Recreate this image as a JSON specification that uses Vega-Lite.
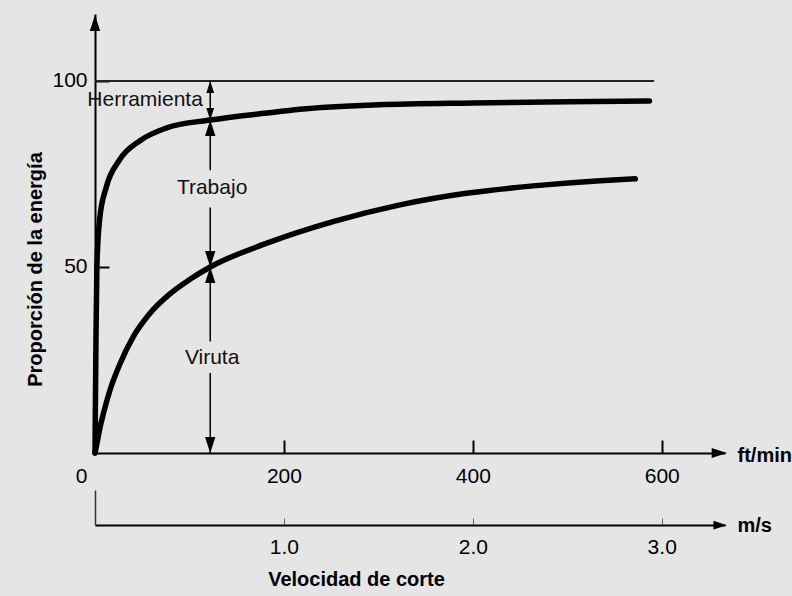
{
  "$schema": "https://vega.github.io/schema/vega-lite/v6.json",
  "width": 630,
  "height": 439,
  "autosize": "none",
  "padding": {"left": 95, "top": 14, "right": 67, "bottom": 143},
  "background": "#e5e5e5",
  "config": {
    "view": {"stroke": null},
    "font": "Liberation Sans",
    "axis": {"grid": false, "domainColor": "#000", "tickColor": "#000", "labelColor": "#000", "titleColor": "#000", "labelFont": "Liberation Sans", "titleFont": "Liberation Sans"}
  },
  "datasets": {
    "curves": [
      {"series": "Herramienta", "speed": 0, "energy": 0},
      {"series": "Herramienta", "speed": 1, "energy": 30},
      {"series": "Herramienta", "speed": 2, "energy": 50},
      {"series": "Herramienta", "speed": 5, "energy": 63},
      {"series": "Herramienta", "speed": 12, "energy": 71.5},
      {"series": "Herramienta", "speed": 26, "energy": 78.8},
      {"series": "Herramienta", "speed": 48, "energy": 84},
      {"series": "Herramienta", "speed": 76, "energy": 87.4},
      {"series": "Herramienta", "speed": 122, "energy": 89.5},
      {"series": "Herramienta", "speed": 182, "energy": 91.4},
      {"series": "Herramienta", "speed": 217, "energy": 92.4},
      {"series": "Herramienta", "speed": 300, "energy": 93.6},
      {"series": "Herramienta", "speed": 400, "energy": 94.1},
      {"series": "Herramienta", "speed": 500, "energy": 94.4},
      {"series": "Herramienta", "speed": 587, "energy": 94.6},
      {"series": "Viruta", "speed": 0, "energy": 0},
      {"series": "Viruta", "speed": 2, "energy": 2.5},
      {"series": "Viruta", "speed": 5, "energy": 6.5},
      {"series": "Viruta", "speed": 8.8, "energy": 10.5},
      {"series": "Viruta", "speed": 16, "energy": 17},
      {"series": "Viruta", "speed": 26.5, "energy": 24},
      {"series": "Viruta", "speed": 40.6, "energy": 31.3},
      {"series": "Viruta", "speed": 58, "energy": 37.5},
      {"series": "Viruta", "speed": 79, "energy": 42.7},
      {"series": "Viruta", "speed": 100.6, "energy": 46.7},
      {"series": "Viruta", "speed": 122, "energy": 50},
      {"series": "Viruta", "speed": 182, "energy": 56.4},
      {"series": "Viruta", "speed": 252, "energy": 62.2},
      {"series": "Viruta", "speed": 323, "energy": 66.7},
      {"series": "Viruta", "speed": 393, "energy": 69.8},
      {"series": "Viruta", "speed": 464, "energy": 71.8},
      {"series": "Viruta", "speed": 535, "energy": 73.2},
      {"series": "Viruta", "speed": 572, "energy": 73.7}
    ],
    "shafts": [
      {"x": 122, "y": 89.5, "y2": 100},
      {"x": 122, "y": 76, "y2": 89.5},
      {"x": 122, "y": 50, "y2": 66},
      {"x": 122, "y": 30, "y2": 50},
      {"x": 122, "y": 0, "y2": 21.5}
    ],
    "bigArrows": [
      {"x": 122, "y": 89.5, "dir": "up"},
      {"x": 122, "y": 50, "dir": "down"},
      {"x": 122, "y": 50, "dir": "up"},
      {"x": 122, "y": 0, "dir": "down"},
      {"x": 0, "y": 117.7, "dir": "up"},
      {"x": 669, "y": 0, "dir": "right"}
    ],
    "smallArrows": [
      {"x": 122, "y": 100, "dir": "up"},
      {"x": 122, "y": 89.5, "dir": "down"}
    ],
    "labels": [
      {"x": 53, "y": 94.9, "label": "Herramienta"},
      {"x": 124, "y": 71.2, "label": "Trabajo"},
      {"x": 124, "y": 25.5, "label": "Viruta"}
    ],
    "msArrow": [{"x": 669, "y": -19.4, "dir": "right"}],
    "topLine": [{"x": 0, "x2": 592, "y": 100}]
  },
  "layer": [
    {
      "data": {"name": "topLine"},
      "mark": {"type": "rule", "color": "#222", "strokeWidth": 2},
      "encoding": {
        "x": {"field": "x", "type": "quantitative", "scale": {"domain": [0, 667], "nice": false, "zero": false}, "axis": null},
        "x2": {"field": "x2"},
        "y": {"field": "y", "type": "quantitative", "scale": {"domain": [0, 118], "nice": false, "zero": false}, "axis": null}
      }
    },
    {
      "data": {"name": "curves"},
      "mark": {"type": "line", "color": "#000", "strokeWidth": 5.5, "interpolate": "monotone", "strokeCap": "round"},
      "encoding": {
        "detail": {"field": "series", "type": "nominal"},
        "x": {
          "field": "speed", "type": "quantitative",
          "scale": {"domain": [0, 667], "nice": false, "zero": false},
          "axis": {
            "orient": "bottom", "values": [0, 200, 400, 600],
            "domainWidth": 2, "tickSize": -13, "tickWidth": 2,
            "tickOpacity": {"condition": {"test": "datum.value == 0", "value": 0}, "value": 1},
            "labelAlign": {"condition": {"test": "datum.value == 0", "value": "right"}, "value": "center"},
            "labelOffset": {"condition": {"test": "datum.value == 0", "value": -8}, "value": 0},
            "labelFontSize": 21, "labelPadding": 25,
            "title": "ft/min", "titleX": 642, "titleY": 2, "titleAlign": "left", "titleBaseline": "middle", "titleAngle": 0,
            "titleFontSize": 20, "titleFontWeight": "bold"
          }
        },
        "y": {
          "field": "energy", "type": "quantitative",
          "scale": {"domain": [0, 118], "nice": false, "zero": false},
          "axis": {
            "orient": "left", "values": [50, 100],
            "domainWidth": 2, "tickSize": -14, "tickWidth": 2,
            "labelFontSize": 21, "labelPadding": 22,
            "title": "Proporción de la energía", "titleX": -60, "titleY": 255, "titleAngle": 270,
            "titleAlign": "center", "titleBaseline": "middle", "titleFontSize": 20, "titleFontWeight": "bold"
          }
        }
      }
    },
    {
      "data": {"name": "shafts"},
      "mark": {"type": "rule", "color": "#000", "strokeWidth": 1.5},
      "encoding": {
        "x": {"field": "x", "type": "quantitative", "scale": {"domain": [0, 667], "nice": false, "zero": false}, "axis": null},
        "y": {"field": "y", "type": "quantitative", "scale": {"domain": [0, 118], "nice": false, "zero": false}, "axis": null},
        "y2": {"field": "y2"}
      }
    },
    {
      "data": {"name": "bigArrows"},
      "mark": {"type": "point", "filled": true, "color": "#000", "opacity": 1, "size": 256, "strokeWidth": 0},
      "encoding": {
        "x": {"field": "x", "type": "quantitative", "scale": {"domain": [0, 667], "nice": false, "zero": false}, "axis": null},
        "y": {"field": "y", "type": "quantitative", "scale": {"domain": [0, 118], "nice": false, "zero": false}, "axis": null},
        "shape": {"field": "dir", "type": "nominal", "legend": null,
          "scale": {"domain": ["up", "down", "right"], "range": ["M0,0L0.65,2L-0.65,2Z", "M0,0L0.65,-2L-0.65,-2Z", "M0,0L-1.9,0.62L-1.9,-0.62Z"]}}
      }
    },
    {
      "data": {"name": "smallArrows"},
      "mark": {"type": "point", "filled": true, "color": "#000", "opacity": 1, "size": 144, "strokeWidth": 0},
      "encoding": {
        "x": {"field": "x", "type": "quantitative", "scale": {"domain": [0, 667], "nice": false, "zero": false}, "axis": null},
        "y": {"field": "y", "type": "quantitative", "scale": {"domain": [0, 118], "nice": false, "zero": false}, "axis": null},
        "shape": {"field": "dir", "type": "nominal", "legend": null,
          "scale": {"domain": ["up", "down", "right"], "range": ["M0,0L0.65,2L-0.65,2Z", "M0,0L0.65,-2L-0.65,-2Z", "M0,0L-1.9,0.62L-1.9,-0.62Z"]}}
      }
    },
    {
      "data": {"name": "labels"},
      "mark": {"type": "text", "fontSize": 21, "color": "#111", "baseline": "middle", "align": "center"},
      "encoding": {
        "x": {"field": "x", "type": "quantitative", "scale": {"domain": [0, 667], "nice": false, "zero": false}, "axis": null},
        "y": {"field": "y", "type": "quantitative", "scale": {"domain": [0, 118], "nice": false, "zero": false}, "axis": null},
        "text": {"field": "label"}
      }
    },
    {
      "data": {"name": "msArrow"},
      "mark": {"type": "point", "filled": true, "color": "#000", "opacity": 1, "size": 200, "strokeWidth": 0},
      "encoding": {
        "x": {
          "field": "x", "type": "quantitative",
          "scale": {"domain": [0, 667], "nice": false, "zero": false},
          "axis": {
            "orient": "bottom", "offset": 72, "values": [200, 400, 600],
            "labelExpr": "format(datum.value / 200, '.1f')",
            "domainWidth": 2, "tickSize": -7, "tickWidth": 1, "tickColor": "#666",
            "labelFontSize": 21, "labelPadding": 18,
            "title": "m/s", "titleX": 642, "titleY": 0, "titleAlign": "left", "titleBaseline": "middle", "titleAngle": 0,
            "titleFontSize": 20, "titleFontWeight": "bold"
          }
        },
        "y": {"field": "y", "type": "quantitative", "scale": {"domain": [0, 118], "nice": false, "zero": false}, "axis": null},
        "shape": {"value": "M0,0L-1.9,0.62L-1.9,-0.62Z"}
      }
    },
    {
      "data": {"name": "msArrow"},
      "mark": {"type": "point", "opacity": 0},
      "encoding": {
        "x": {
          "field": "x", "type": "quantitative",
          "scale": {"domain": [0, 667], "nice": false, "zero": false},
          "axis": {
            "orient": "bottom", "offset": 72, "values": [0],
            "domain": false, "labels": false, "tickSize": -35, "tickWidth": 1.5, "tickColor": "#333",
            "title": "Velocidad de corte", "titleX": 261, "titleY": 54, "titleAlign": "center", "titleBaseline": "middle", "titleAngle": 0,
            "titleFontSize": 20, "titleFontWeight": "bold"
          }
        },
        "y": {"field": "y", "type": "quantitative", "scale": {"domain": [0, 118], "nice": false, "zero": false}, "axis": null}
      }
    }
  ],
  "resolve": {"axis": {"x": "independent", "y": "independent"}}
}
